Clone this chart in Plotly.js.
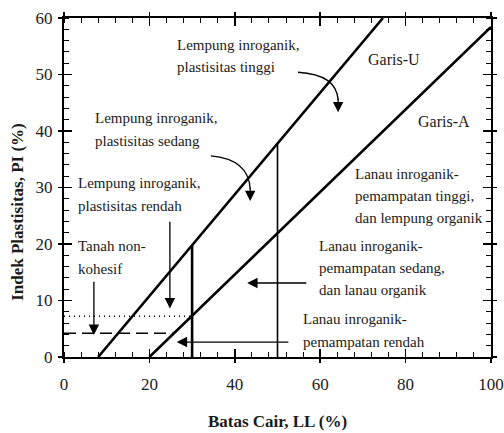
<!DOCTYPE html>
<html>
<head>
<meta charset="utf-8">
<script src="https://cdn.plot.ly/plotly-3.0.1.min.js"></script>
<style>html,body{margin:0;padding:0;background:#fff;}#chart{width:504px;height:433px;}</style>
</head>
<body>
<div id="chart"></div>
<script>
// ---- Data ----
var uLineLL = [8, 74.7];          // Garis-U  : PI = 0.9 (LL - 8)
var uLinePI = [0, 60];
var aLineLL = [20, 100];          // Garis-A  : PI = 0.73 (LL - 20)
var aLinePI = [0, 58.4];
var divide30LL = [30, 30];        // vertical boundary at LL = 30
var divide30PI = [0, 19.8];
var divide50LL = [50, 50];        // vertical boundary at LL = 50
var divide50PI = [0, 37.8];
var dottedLL = [0, 29.6];         // upper limit of non-cohesive band
var dottedPI = [7.2, 7.2];
var dashedLL = [0, 25.6];         // lower limit of non-cohesive band
var dashedPI = [4.2, 4.2];

var xTicks = [0, 20, 40, 60, 80, 100];
var yTicks = [0, 10, 20, 30, 40, 50, 60];

// Region labels
var labelTinggi   = ["Lempung inroganik,", "plastisitas tinggi"];
var labelSedang   = ["Lempung inroganik,", "plastisitas sedang"];
var labelRendah   = ["Lempung inroganik,", "plastisitas rendah"];
var labelTanah    = ["Tanah non-", "kohesif"];
var labelLanauT   = ["Lanau inroganik-", "pemampatan tinggi,", "dan lempung organik"];
var labelLanauS   = ["Lanau inroganik-", "pemampatan sedang,", "dan lanau organik"];
var labelLanauR   = ["Lanau inroganik-", "pemampatan rendah"];
var labelGarisU   = "Garis-U";
var labelGarisA   = "Garis-A";
var xTitle = "Batas Cair, LL (%)";
var yTitle = "Indek Plastisitas, PI (%)";

var serif = "Liberation Serif, Times New Roman, serif";
var txtColor = "#1a1a1a";

function lineTrace(xs, ys, w, dash) {
  return {x: xs, y: ys, type: "scatter", mode: "lines", hoverinfo: "skip",
          line: {color: "#000", width: w, dash: dash || "solid"}, showlegend: false};
}

var traces = [
  lineTrace(uLineLL, uLinePI, 2.6),
  lineTrace(aLineLL, aLinePI, 2.6),
  lineTrace(divide30LL, divide30PI, 2.6),
  lineTrace(divide50LL, divide50PI, 1.6),
  lineTrace(dottedLL, dottedPI, 1.6, "1px,4px"),
  lineTrace(dashedLL, dashedPI, 1.6, "12px,6px")
];

var annotations = [];
function addLines(lines, x, yTop, step) {
  lines.forEach(function (t, i) {
    annotations.push({x: x, y: yTop - i * step, xref: "x", yref: "y", text: t,
      showarrow: false, xanchor: "left", yanchor: "middle",
      font: {family: serif, size: 15, color: txtColor}});
  });
}
addLines(labelTinggi, 26.0, 55.2, 3.9);
addLines(labelSedang, 6.9, 42.3, 4.0);
addLines(labelRendah, 2.9, 30.8, 4.0);
addLines(labelTanah, 2.9, 19.6, 4.0);
addLines(labelLanauT, 67.6, 32.4, 3.9);
addLines(labelLanauS, 59.2, 19.6, 3.9);
addLines(labelLanauR, 55.4, 6.7, 4.0);
annotations.push({x: 70.8, y: 52.6, xref: "x", yref: "y", text: labelGarisU, showarrow: false,
  xanchor: "left", yanchor: "middle", font: {family: serif, size: 16, color: txtColor}});
annotations.push({x: 82.5, y: 41.6, xref: "x", yref: "y", text: labelGarisA, showarrow: false,
  xanchor: "left", yanchor: "middle", font: {family: serif, size: 16, color: txtColor}});
// y-axis title placed as an annotation to match the reference position
annotations.push({x: -0.108, y: 0.428, xref: "paper", yref: "paper", text: yTitle, showarrow: false,
  textangle: -90, xanchor: "center", yanchor: "middle",
  font: {family: serif, size: 17, color: txtColor, weight: "bold"}});

// Straight pointer arrows (tail -> head, in data units)
function arrow(tx, ty, hx, hy) {
  annotations.push({x: hx, y: hy, ax: tx, ay: ty, xref: "x", yref: "y", axref: "x", ayref: "y",
    text: "", showarrow: true, arrowhead: 2, arrowsize: 1.6, arrowwidth: 1.3, arrowcolor: "#000"});
}
arrow(24.8, 24.2, 24.8, 8.6);
arrow(7.0, 13.6, 7.0, 3.9);
arrow(57.1, 13.1, 42.9, 13.1);
arrow(52.9, 2.65, 26.4, 2.65);
// heads of curved arrows
arrow(64.2, 46.0, 64.2, 43.3);
arrow(43.6, 30.2, 43.6, 27.6);

var shapes = [
  {type: "path", xref: "x", yref: "y", path: "M 54.8 50.4 Q 63.8 50.0 64.2 45.5",
   line: {color: "#000", width: 1.3}},
  {type: "path", xref: "x", yref: "y", path: "M 34.4 35.6 Q 43.2 35.0 43.6 29.8",
   line: {color: "#000", width: 1.3}}
];

var layout = {
  width: 504, height: 433,
  margin: {l: 64, r: 13, t: 18, b: 76},
  paper_bgcolor: "#fff", plot_bgcolor: "#fff",
  showlegend: false,
  xaxis: {
    range: [0, 100], tickvals: xTicks, ticktext: xTicks.map(String),
    ticks: "outside", ticklen: 4, tickwidth: 1.5, tickcolor: "#000",
    showline: true, linewidth: 2, linecolor: "#000", mirror: "allticks",
    showgrid: false, zeroline: false, ticklabelstandoff: 7,
    minor: {dtick: 4, tick0: 0, ticks: "inside", ticklen: 5, tickwidth: 1, tickcolor: "#000", showgrid: false},
    tickfont: {family: serif, size: 17, color: txtColor},
    title: {text: xTitle, standoff: 22,
            font: {family: serif, size: 17, color: txtColor, weight: "bold"}}
  },
  yaxis: {
    range: [0, 60], tickvals: yTicks, ticktext: yTicks.map(String),
    ticks: "outside", ticklen: 4, tickwidth: 1.5, tickcolor: "#000",
    showline: true, linewidth: 2, linecolor: "#000", mirror: "allticks",
    showgrid: false, zeroline: false, ticklabelstandoff: 2,
    minor: {dtick: 2, tick0: 0, ticks: "inside", ticklen: 5, tickwidth: 1, tickcolor: "#000", showgrid: false},
    tickfont: {family: serif, size: 17, color: txtColor}
  },
  xaxis2: {overlaying: "x", matches: "x", range: [0, 100], tickvals: xTicks, ticks: "inside",
           ticklen: 8, tickwidth: 1.5, tickcolor: "#000", showticklabels: false, showline: false,
           showgrid: false, zeroline: false, mirror: "ticks"},
  yaxis2: {overlaying: "y", matches: "y", range: [0, 60], tickvals: yTicks, ticks: "inside",
           ticklen: 8, tickwidth: 1.5, tickcolor: "#000", showticklabels: false, showline: false,
           showgrid: false, zeroline: false, mirror: "ticks"},
  annotations: annotations,
  shapes: shapes
};

// invisible point to activate the overlay axes
traces.push({x: [0], y: [0], xaxis: "x2", yaxis: "y2", type: "scatter", mode: "markers",
             marker: {opacity: 0}, hoverinfo: "skip", showlegend: false});

Plotly.newPlot("chart", traces, layout, {displayModeBar: false, staticPlot: true});
</script>
</body>
</html>
